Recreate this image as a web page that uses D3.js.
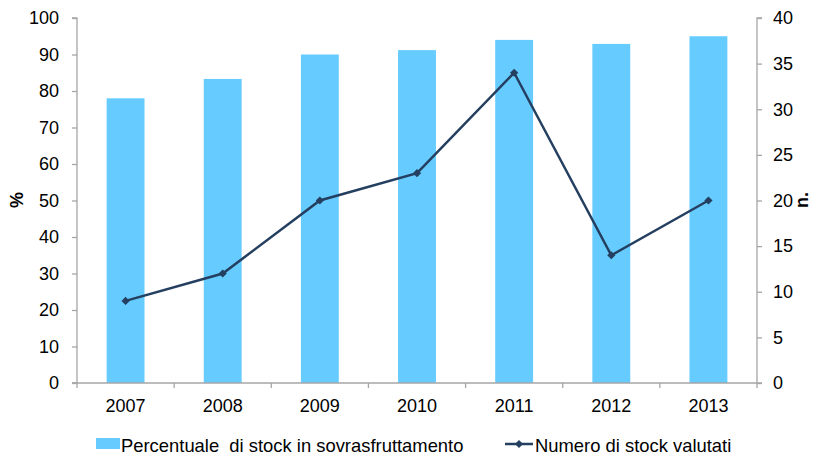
<!DOCTYPE html>
<html>
<head>
<meta charset="utf-8">
<script src="https://cdn.jsdelivr.net/npm/d3@7"></script>
<style>
  html, body { margin: 0; padding: 0; background: #fff; }
  text { font-family: "Liberation Sans", Arial, sans-serif; fill: #000; }
</style>
</head>
<body>
<svg id="chart" width="817" height="455"></svg>
<script>
// Anni di riferimento
const years = ["2007", "2008", "2009", "2010", "2011", "2012", "2013"];
// Percentuale di stock in sovrasfruttamento (%)
const overfishedPct = [78, 83.3, 90, 91.2, 94, 92.9, 95];
// Numero di stock valutati (n.)
const stocksAssessed = [9, 12, 20, 23, 34, 14, 20];
// Tick assi
const leftTicks = [0, 10, 20, 30, 40, 50, 60, 70, 80, 90, 100];
const rightTicks = [0, 5, 10, 15, 20, 25, 30, 35, 40];
const seriesNames = ["Percentuale  di stock in sovrasfruttamento", "Numero di stock valutati"];

const barColor = "#66CCFF";
const lineColor = "#243F60";
const axisColor = "#A6A6A6";
const fs = 18;
const legendFs = 18.4;

const svg = d3.select("#chart");
const plot = { left: 77, right: 757, top: 18, bottom: 383 };

const x = d3.scaleBand().domain(years).range([plot.left, plot.right]).paddingInner(0.61).paddingOuter(0.305);
const xb = d3.scaleBand().domain(years).range([plot.left, plot.right]);
const yL = d3.scaleLinear().domain([0, 100]).range([plot.bottom, plot.top]);
const yR = d3.scaleLinear().domain([0, 40]).range([plot.bottom, plot.top]);

// Barre
svg.append("g").selectAll("rect").data(years).join("rect")
  .attr("x", d => x(d))
  .attr("width", x.bandwidth())
  .attr("y", (d, i) => yL(overfishedPct[i]))
  .attr("height", (d, i) => plot.bottom - yL(overfishedPct[i]))
  .attr("fill", barColor);

// Asse sinistro
const axL = svg.append("g").attr("transform", `translate(${plot.left},0)`)
  .call(d3.axisLeft(yL).tickValues(leftTicks).tickSize(5).tickPadding(13));
// Asse destro
const axR = svg.append("g").attr("transform", `translate(${plot.right},0)`)
  .call(d3.axisRight(yR).tickValues(rightTicks).tickSize(5).tickPadding(11));
// Asse orizzontale con tacche ai confini delle categorie
const axB = svg.append("g").attr("transform", `translate(0,${plot.bottom})`);
axB.append("line").attr("x1", plot.left - 5).attr("x2", plot.right)
  .attr("stroke", axisColor).attr("stroke-width", 1.3);
const bounds = years.map(d => xb(d)).concat([plot.right]);
axB.selectAll("line.tk").data(bounds).join("line").attr("class", "tk")
  .attr("x1", d => d).attr("x2", d => d).attr("y1", 0).attr("y2", 5)
  .attr("stroke", axisColor).attr("stroke-width", 1.3);
axB.selectAll("text").data(years).join("text")
  .attr("x", d => xb(d) + xb.bandwidth() / 2).attr("y", 29)
  .attr("text-anchor", "middle").attr("font-size", fs).text(d => d);

[axL, axR].forEach(g => {
  g.select(".domain").attr("stroke", axisColor).attr("stroke-width", 1.3);
  g.selectAll(".tick line").attr("stroke", axisColor).attr("stroke-width", 1.3);
  g.selectAll(".tick text").attr("font-size", fs).attr("font-family", "Liberation Sans, Arial, sans-serif").attr("fill", "#000");
});
axL.select(".domain").attr("d", `M-5,${plot.top}H0V${plot.bottom}H-5`);
axR.select(".domain").attr("d", `M5,${plot.top}H0V${plot.bottom}H5`);

// Linea
const pts = years.map((d, i) => [xb(d) + xb.bandwidth() / 2, yR(stocksAssessed[i])]);
svg.append("path").datum(pts)
  .attr("d", d3.line())
  .attr("fill", "none").attr("stroke", lineColor).attr("stroke-width", 2.5);
const marker = d3.symbol().type(d3.symbolSquare).size(34);
svg.append("g").selectAll("path").data(pts).join("path")
  .attr("transform", d => `translate(${d[0]},${d[1]}) rotate(45)`)
  .attr("d", marker).attr("fill", lineColor);

// Titoli degli assi
svg.append("text").attr("transform", "translate(23,200) rotate(-90)")
  .attr("text-anchor", "middle").attr("font-size", fs).attr("font-weight", "bold").text("%");
svg.append("text").attr("transform", "translate(808,200) rotate(-90)")
  .attr("text-anchor", "middle").attr("font-size", fs).attr("font-weight", "bold").text("n.");

// Legenda
const lg = svg.append("g");
lg.append("rect").attr("x", 96).attr("y", 438).attr("width", 24).attr("height", 11).attr("fill", barColor);
lg.append("text").attr("x", 121).attr("y", 452).attr("font-size", legendFs).text(seriesNames[0]).style("white-space", "pre");
lg.append("line").attr("x1", 505).attr("x2", 533).attr("y1", 444).attr("y2", 444)
  .attr("stroke", lineColor).attr("stroke-width", 2.5);
lg.append("path").attr("transform", "translate(519,444) rotate(45)").attr("d", marker).attr("fill", lineColor);
lg.append("text").attr("x", 535).attr("y", 452).attr("font-size", legendFs).text(seriesNames[1]);
</script>
</body>
</html>
